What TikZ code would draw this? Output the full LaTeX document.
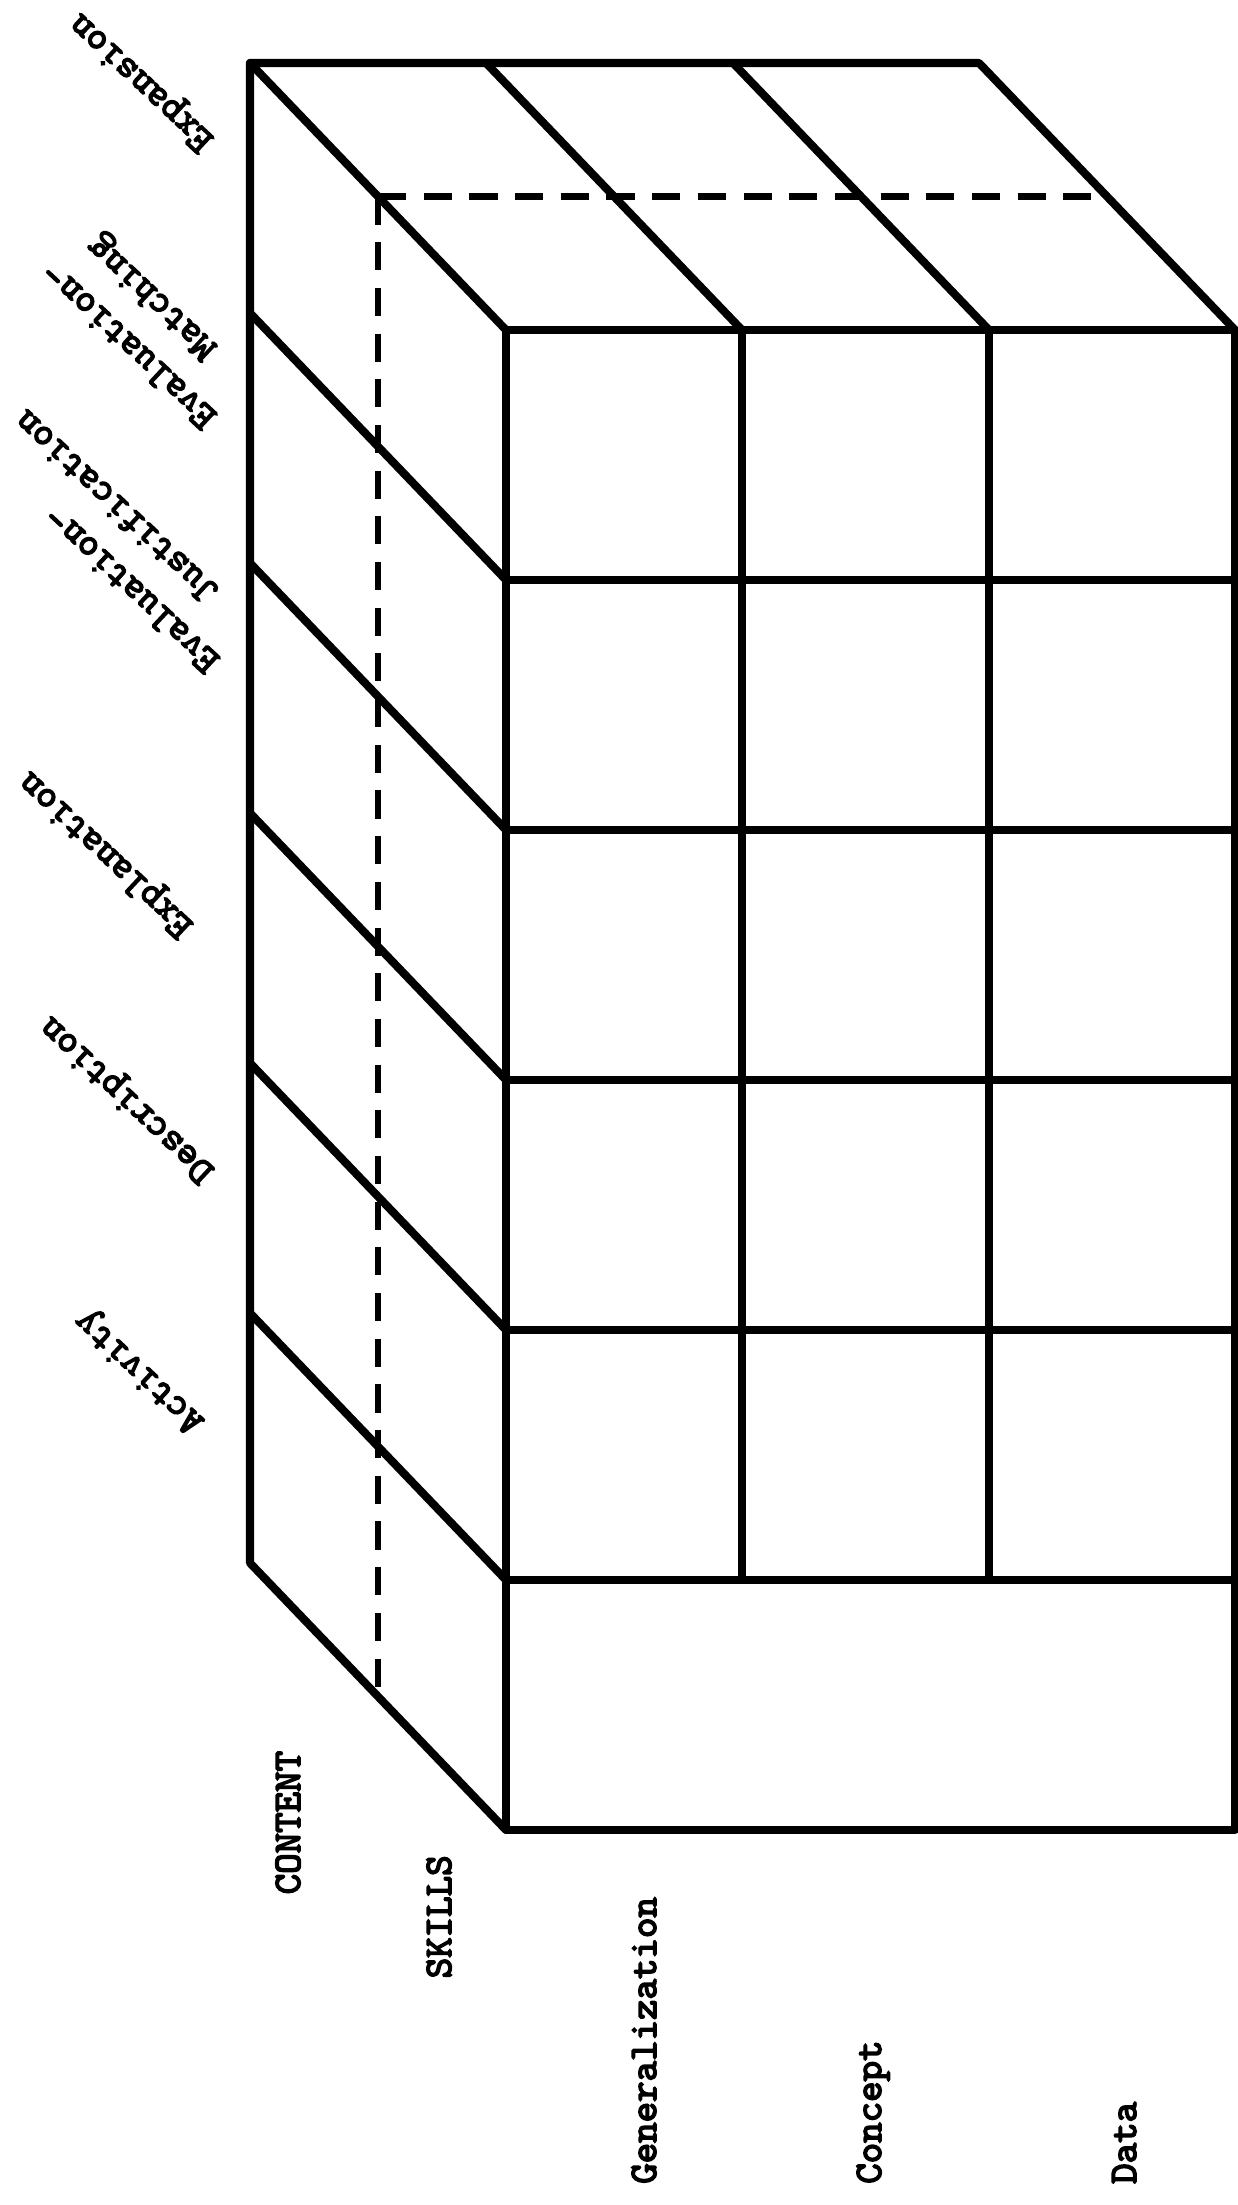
\documentclass[tikz,border=0pt]{standalone}
\usepackage{fontspec}
\usepackage{tikz}
\newfontfamily\cubemono{lmmono10-regular.otf}[FakeBold=4]
\newcommand{\cubefont}{\cubemono\fontsize{11.1}{14.2}\selectfont}

\begin{document}
\begin{tikzpicture}[
    cubeline/.style={line width=2.3pt, line cap=round, line join=round},
    midline/.style={line width=1.9pt, dash pattern=on 8pt off 5pt},
    levellabel/.style={font=\cubefont, rotate=137, align=left, inner sep=0pt},
    axislabel/.style={font=\cubefont, rotate=90, anchor=base west, inner sep=0pt}]
  \useasboundingbox (0,0) rectangle (12.37,22.05);

  % Front face
  \draw[cubeline] (5.06,3.75) rectangle (12.35,18.75);
  \draw[cubeline] (5.06,16.25) -- (12.35,16.25);
  \draw[cubeline] (5.06,13.75) -- (12.35,13.75);
  \draw[cubeline] (5.06,11.25) -- (12.35,11.25);
  \draw[cubeline] (5.06,8.75) -- (12.35,8.75);
  \draw[cubeline] (5.06,6.25) -- (12.35,6.25);
  \draw[cubeline] (7.42,6.25) -- (7.42,18.75);
  \draw[cubeline] (9.89,6.25) -- (9.89,18.75);

  % Top face
  \draw[cubeline] (5.06,18.75) -- (2.50,21.42) -- (9.79,21.42) -- (12.35,18.75);
  \draw[cubeline] (4.86,21.42) -- (7.42,18.75);
  \draw[cubeline] (7.33,21.42) -- (9.89,18.75);

  % Left face
  \draw[cubeline] (2.50,21.42) -- (2.50,6.42) -- (5.06,3.75);
  \draw[cubeline] (2.50,18.92) -- (5.06,16.25);
  \draw[cubeline] (2.50,16.42) -- (5.06,13.75);
  \draw[cubeline] (2.50,13.92) -- (5.06,11.25);
  \draw[cubeline] (2.50,11.42) -- (5.06,8.75);
  \draw[cubeline] (2.50,8.92) -- (5.06,6.25);

  % Hidden middle layer
  \draw[midline] (3.78,20.085) -- (3.78,5.085);
  \draw[midline] (3.78,20.085) -- (11.07,20.085);

  % Row labels (upside down)
  \node[levellabel] (expansion) at (1.425,21.24) {Expansion};
  \node[levellabel] (evalmatch) at (1.48,18.80) {Evaluation-\\\hspace*{1.2em}Matching};
  \node[levellabel] (evaljust) at (1.16,16.63) {Evaluation-\\\hspace*{1.2em}Justification};
  \node[levellabel] (explanation) at (1.07,13.52) {Explanation};
  \node[levellabel] (description) at (1.28,11.07) {Description};
  \node[levellabel] (activity) at (1.405,8.345) {Activity};

  % Depth and column labels
  \node[axislabel] (content) at (3.00,3.10) {CONTENT};
  \node[axislabel] (skills) at (4.51,2.26) {SKILLS};
  \node[axislabel] (general) at (6.56,0.205) {Generalization};
  \node[axislabel] (concept) at (8.81,0.205) {Concept};
  \node[axislabel] (data) at (11.36,0.205) {Data};
\end{tikzpicture}
\end{document}
